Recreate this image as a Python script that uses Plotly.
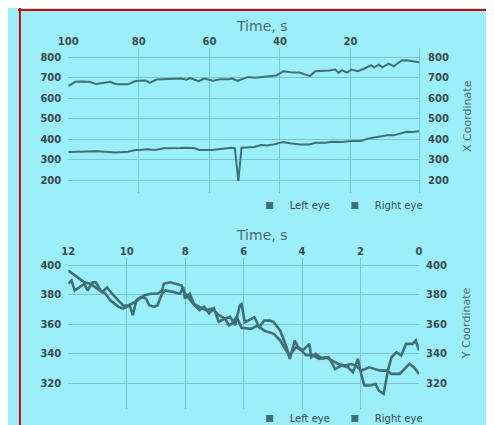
import plotly.graph_objects as go

# ---------------- data: top chart (X coordinate vs time) ----------------
t_x_left = [100, 96, 92, 89.4, 86.7, 83, 81, 79.8, 77.5, 75.5, 72.9, 68.3, 66.5, 64.5, 62.8, 59.2,
            57.5, 55.5, 53.7, 52.8, 51.8, 50.9, 49, 47.2, 45.4, 43.6, 41.7, 39, 37.2, 34.4, 31.7,
            29.8, 27.1, 25.2, 22.5, 19.7, 17, 15.1, 13.3, 11.5, 9.6, 7.8, 6, 4.1, 2.3, 0.6]
x_left_eye = [338, 340, 341, 339, 336, 339, 348, 347, 351, 348, 356, 357, 359, 357, 348, 348,
              351, 356, 359, 357, 197, 359, 362, 362, 372, 369, 375, 387, 380, 375, 374,
              383, 383, 388, 386, 392, 392, 403, 408, 412, 419, 419, 429, 437, 435, 439]

t_x_right = [100, 98, 96, 94, 92, 90, 88, 87, 86, 83, 81, 80, 78, 77, 75, 73, 70, 68, 66.5, 65.5,
             63, 61.5, 59, 57, 54.5, 53.5, 52, 49, 47, 43.5, 41, 39, 37, 34.5, 32.5, 31.5, 30, 26,
             24.3, 23.4, 22.5, 21, 19.7, 18, 16, 14.2, 13.3, 12, 11, 9.2, 7.8, 5.5, 4, 2.3, 0.6]
x_right_eye = [659, 680, 682, 680, 669, 676, 680, 672, 668, 668, 684, 685, 687, 675, 691, 692, 694,
               696, 690, 698, 683, 696, 685, 693, 692, 696, 685, 704, 700, 708, 711, 732, 727, 725,
               716, 708, 732, 735, 740, 724, 737, 725, 740, 732, 745, 761, 751, 764, 751, 769, 756,
               784, 785, 781, 776]

x_top_ticks = [100, 80, 60, 40, 20]
y_top_ticks = [200, 300, 400, 500, 600, 700, 800]

# ---------------- data: bottom chart (Y coordinate vs time) ----------------
t_y_left = [12.0, 11.83, 11.61, 11.45, 11.23, 11.0, 10.84, 10.67, 10.5, 10.28, 10.12, 9.95, 9.73,
            9.56, 9.4, 9.17, 8.95, 8.79, 8.73, 8.51, 8.29, 8.12, 8.07, 7.9, 7.73, 7.51, 7.29, 7.07,
            6.85, 6.63, 6.46, 6.29, 6.13, 6.07, 5.96, 5.85, 5.63, 5.46, 5.3, 5.08, 4.97, 4.75, 4.53,
            4.42, 4.25, 4.14, 3.97, 3.75, 3.69, 3.53, 3.31, 3.09, 2.87, 2.65, 2.43, 2.26, 2.09,
            1.98, 1.87, 1.65, 1.49, 1.38, 1.21, 1.05, 0.94, 0.77, 0.61, 0.44, 0.22, 0.11, 0.0]
y_left_eye = [396.2, 393.9, 390.5, 388.3, 387.2, 383.8, 381.6, 384.9, 380.6, 375.9, 372.6, 372.6,
              374.8, 377.3, 379.5, 380.6, 380.6, 382.8, 387.3, 388.3, 387.2, 386.2, 382.7, 378.4,
              373.9, 371.7, 369.5, 370.5, 366.1, 363.8, 364.9, 359.3, 372.8, 373.6, 361.3, 362.4,
              364.7, 357.9, 362.4, 362.4, 361.3, 355.7, 344.4, 336.5, 348.9, 344.4, 342.2, 346.6,
              337.6, 339.9, 336.5, 337.6, 329.7, 332.0, 330.8, 327.5, 336.5, 326.4, 318.5, 318.5,
              319.6, 315.1, 312.8, 329.7, 337.6, 341.0, 338.8, 346.6, 346.6, 348.9, 342.2]

t_y_right = [12.0, 11.89, 11.78, 11.61, 11.45, 11.34, 11.17, 11.06, 10.89, 10.73, 10.56, 10.28,
             10.12, 9.9, 9.79, 9.67, 9.51, 9.34, 9.23, 9.06, 8.95, 8.79, 8.68, 8.4, 8.18, 8.07,
             8.01, 7.84, 7.68, 7.51, 7.35, 7.18, 7.02, 6.85, 6.63, 6.51, 6.4, 6.24, 6.07, 5.74,
             5.52, 5.3, 4.97, 4.75, 4.59, 4.42, 4.2, 4.03, 3.86, 3.64, 3.42, 3.2, 2.98, 2.76,
             2.54, 2.32, 2.15, 1.98, 1.71, 1.54, 1.32, 1.1, 0.94, 0.66, 0.44, 0.33, 0.17, 0.0]
y_right_eye = [387.3, 389.6, 382.8, 384.9, 387.3, 382.8, 388.3, 388.3, 382.8, 380.6, 376.2, 371.7,
               370.6, 372.8, 366.1, 376.2, 378.4, 377.3, 372.8, 371.7, 372.8, 380.6, 382.8, 381.7,
               380.6, 385.0, 377.3, 380.6, 372.8, 369.5, 371.7, 367.2, 370.6, 361.6, 363.8, 359.3,
               360.5, 365.0, 357.5, 356.8, 359.0, 355.6, 353.4, 349.0, 343.4, 339.0, 344.5, 342.2,
               339.0, 339.0, 336.5, 337.6, 335.3, 333.0, 331.9, 333.0, 331.9, 328.5, 330.8, 329.7,
               328.5, 328.5, 326.3, 326.3, 330.8, 333.1, 330.8, 326.3]

x_bot_ticks = [12, 10, 8, 6, 4, 2, 0]
y_bot_ticks = [320, 340, 360, 380, 400]

series_names = ["Left eye", "Right eye"]

# ---------------- styling ----------------
BG = "#9aeffa"
LINE = "#426f75"
GRID = "#7ac6d0"
TXT = "#3c4a4d"
TITLE = "#56686c"
FONT = "DejaVu Sans"

fig = go.Figure()

# top chart
fig.add_trace(go.Scatter(x=t_x_left, y=x_left_eye, mode="lines", xaxis="x", yaxis="y",
                         line=dict(color=LINE, width=2), showlegend=False, name=series_names[0]))
fig.add_trace(go.Scatter(x=t_x_right, y=x_right_eye, mode="lines", xaxis="x", yaxis="y2",
                         line=dict(color=LINE, width=2), showlegend=False, name=series_names[1]))
# bottom chart
fig.add_trace(go.Scatter(x=t_y_left, y=y_left_eye, mode="lines", xaxis="x2", yaxis="y3",
                         line=dict(color=LINE, width=2.6), showlegend=False, name=series_names[0]))
fig.add_trace(go.Scatter(x=t_y_right, y=y_right_eye, mode="lines", xaxis="x2", yaxis="y4",
                         line=dict(color=LINE, width=2.6), showlegend=False, name=series_names[1]))

# legend entries (square swatches)
for lg, xa, ya in (("legend", "x", "y"), ("legend2", "x2", "y3")):
    for nm in series_names:
        fig.add_trace(go.Scatter(x=[None], y=[None], mode="markers", xaxis=xa, yaxis=ya,
                                 marker=dict(symbol="square", size=7, color=LINE),
                                 name=nm, legend=lg, showlegend=True))

XDOM = [0.1047, 0.8354]
TOPDOM = [0.5647, 0.9047]
BOTDOM = [0.0548, 0.4094]
TOP_YR = [140, 843]
BOT_YR = [302.7, 404.5]

tickfont = dict(family=FONT, size=10, color=TXT, weight="bold")
common_x = dict(showgrid=True, gridcolor=GRID, gridwidth=1, zeroline=False, showline=False,
                ticks="", side="top", tickfont=tickfont, fixedrange=True)
common_y = dict(showgrid=True, gridcolor=GRID, gridwidth=1, zeroline=False, showline=False,
                ticks="", tickfont=tickfont, ticklabelstandoff=6)
legfont = dict(family=FONT, size=10, color=TXT)

fig.update_layout(
    width=494, height=425,
    margin=dict(l=0, r=0, t=0, b=0),
    paper_bgcolor=BG, plot_bgcolor=BG,
    font=dict(family=FONT, color=TXT),
    xaxis=dict(domain=XDOM, anchor="y", range=[100, 0.6], tickvals=x_top_ticks, **common_x),
    yaxis=dict(domain=TOPDOM, anchor="x", range=TOP_YR, tickvals=y_top_ticks, side="left", **common_y),
    yaxis2=dict(overlaying="y", anchor="x", side="right", range=TOP_YR, tickvals=y_top_ticks,
                showgrid=False, zeroline=False, showline=True, linecolor=GRID, linewidth=1,
                ticks="", tickfont=tickfont, ticklabelstandoff=6),
    xaxis2=dict(domain=XDOM, anchor="y3", range=[12, 0], tickvals=x_bot_ticks, **common_x),
    yaxis3=dict(domain=BOTDOM, anchor="x2", range=BOT_YR, tickvals=y_bot_ticks, side="left", **common_y),
    yaxis4=dict(overlaying="y3", anchor="x2", side="right", range=BOT_YR, tickvals=y_bot_ticks,
                showgrid=False, zeroline=False, showline=False,
                ticks="", tickfont=tickfont, ticklabelstandoff=6),
    legend=dict(orientation="h", x=0.668, xanchor="center", y=0.534, yanchor="middle",
                bgcolor="rgba(0,0,0,0)", font=legfont, itemwidth=30, tracegroupgap=0),
    legend2=dict(orientation="h", x=0.668, xanchor="center", y=0.031, yanchor="middle",
                 bgcolor="rgba(0,0,0,0)", font=legfont, itemwidth=30, tracegroupgap=0),
    annotations=[
        dict(text="Time, s", xref="paper", yref="paper", x=0.508, y=0.9576, showarrow=False,
             xanchor="center", yanchor="middle", font=dict(family=FONT, size=14, color=TITLE)),
        dict(text="Time, s", xref="paper", yref="paper", x=0.508, y=0.4635, showarrow=False,
             xanchor="center", yanchor="middle", font=dict(family=FONT, size=14, color=TITLE)),
        dict(text="X Coordinate", xref="paper", yref="paper", x=0.935, y=0.745, showarrow=False,
             textangle=-90, xanchor="center", yanchor="middle",
             font=dict(family=FONT, size=11, color=TITLE)),
        dict(text="Y Coordinate", xref="paper", yref="paper", x=0.935, y=0.256, showarrow=False,
             textangle=-90, xanchor="center", yanchor="middle",
             font=dict(family=FONT, size=11, color=TITLE)),
    ],
    shapes=[
        dict(type="rect", xref="paper", yref="paper", x0=0, x1=1, y0=1 - 3 / 425, y1=1 - 1 / 425,
             fillcolor="#d90000", line=dict(width=0), layer="above"),
        dict(type="rect", xref="paper", yref="paper", x0=1 / 494, x1=3 / 494, y0=0, y1=1,
             fillcolor="#d90000", line=dict(width=0), layer="above"),
    ],
)

fig.write_html("out.html")
